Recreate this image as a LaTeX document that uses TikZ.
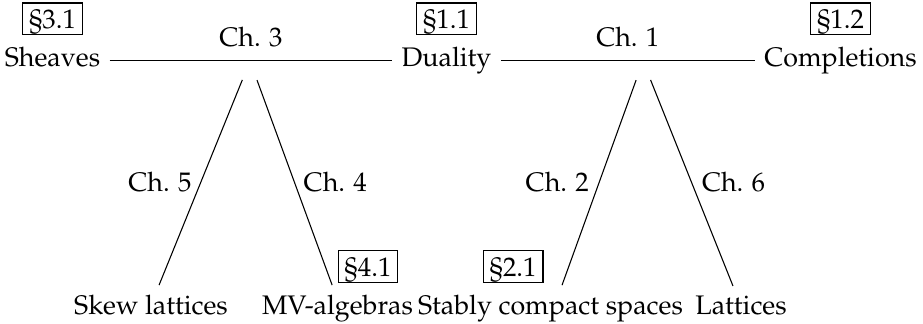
\documentclass[tikz,border=0pt]{standalone}
\usepackage[T1]{fontenc}
\usepackage{mathpazo}
\begin{document}
\begin{tikzpicture}[x=0.3727pt,y=-0.3727pt,
  every node/.style={font=\fontsize{10}{12}\selectfont},
  obj/.style={anchor=base, inner sep=3.33pt},
  edge/.style={line width=0.4pt},
  lab/.style={inner sep=0pt},
  secbox/.style={draw, line width=0.4pt, inner xsep=2.4pt, inner ysep=1.1pt, text height=8.4pt, text depth=1.2pt}]
\useasboundingbox (0,0) rectangle (923,323);
% objects
\node[obj] (sh) at (52.5,67) {Sheaves};
\node[obj] (du) at (446.5,67) {Duality};
\node[obj] (co) at (840.5,67) {Completions};
\node[obj] (sk) at (151,314) {Skew lattices};
\node[obj] (mv) at (337.5,314) {MV-algebras};
\node[obj] (sc) at (550.5,314) {Stably compact spaces};
\node[obj] (la) at (741,314) {Lattices};
% section boxes
\node[secbox, anchor=south] (b31) at ([yshift=1.1pt]sh.north) {\S3.1};
\node[secbox, anchor=south] (b11) at ([yshift=1.1pt]du.north) {\S1.1};
\node[secbox, anchor=south] (b12) at ([yshift=1.1pt]co.north) {\S1.2};
\node[secbox, anchor=south west] (b41) at ([yshift=0.8pt]mv.north) {\S4.1};
\node[secbox, anchor=south east] (b21) at ([xshift=-2.6pt,yshift=0.8pt]sc.north) {\S2.1};
% horizontal edges
\draw[edge] ([yshift=2.3pt]sh.base east) -- ([yshift=2.3pt]du.base west)
  node[midway, above=4.8pt, lab] {Ch. 3};
\draw[edge] ([yshift=2.3pt]du.base west -| du.east) -- ([yshift=2.3pt]co.base west)
  node[midway, above=4.8pt, lab] {Ch. 1};
% apexes
\coordinate (a1) at (250,61);
\coordinate (a2) at (643,61);
% diagonal edges
\draw[edge, shorten <=7.6pt] (a1) -- ([xshift=3pt]sk.north)
  node[pos=0.54, left=3.3pt, lab] {Ch. 5};
\draw[edge, shorten <=7.6pt] (a1) -- ([xshift=-2pt]mv.north)
  node[pos=0.54, right=3.3pt, lab] {Ch. 4};
\draw[edge, shorten <=7.6pt] (a2) -- ([xshift=4.3pt]sc.north)
  node[pos=0.54, left=3.7pt, lab] {Ch. 2};
\draw[edge, shorten <=7.6pt] (a2) -- ([xshift=-3pt]la.north)
  node[pos=0.54, right=3.7pt, lab] {Ch. 6};
\end{tikzpicture}
\end{document}
